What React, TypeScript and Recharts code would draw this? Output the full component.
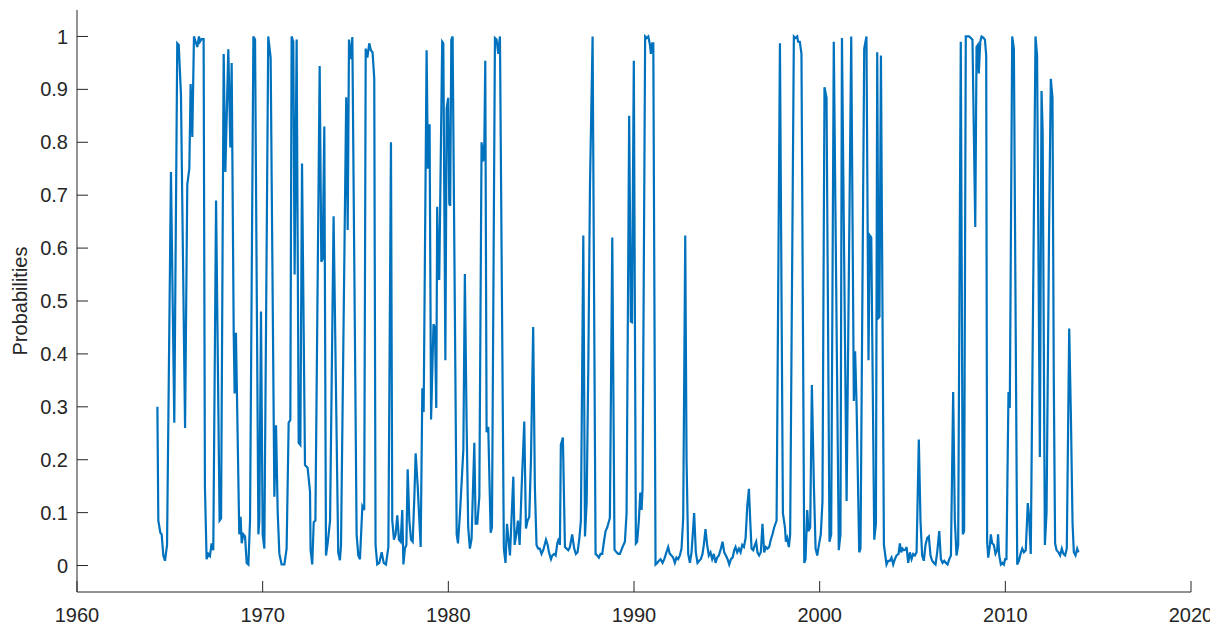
import React from 'react';
import { LineChart, Line, XAxis, YAxis } from 'recharts';

// [decimal year, probability]
const obs1960s: [number, number][] = [
  [1964.33, 0.3], [1964.38, 0.085], [1964.49, 0.062], [1964.56, 0.059], [1964.65, 0.019], [1964.74, 0.009],
  [1964.85, 0.039], [1965.06, 0.744], [1965.24, 0.27], [1965.4, 0.987], [1965.48, 0.984], [1965.6, 0.89],
  [1965.82, 0.26], [1965.94, 0.72], [1966.05, 0.75], [1966.12, 0.91], [1966.21, 0.81], [1966.3, 1.0],
  [1966.39, 0.99], [1966.48, 0.98], [1966.57, 1.0], [1966.62, 0.99], [1966.71, 0.995], [1966.82, 0.995],
  [1966.89, 0.15], [1966.98, 0.012], [1967.07, 0.022], [1967.16, 0.018], [1967.25, 0.042], [1967.34, 0.029],
  [1967.49, 0.69], [1967.68, 0.085], [1967.76, 0.089], [1967.9, 0.967], [1967.99, 0.744], [1968.15, 0.976],
  [1968.26, 0.79], [1968.33, 0.95], [1968.44, 0.44], [1968.49, 0.325], [1968.56, 0.44], [1968.74, 0.059],
  [1968.81, 0.092], [1968.87, 0.042], [1968.96, 0.059], [1969.05, 0.055], [1969.14, 0.005], [1969.23, 0.002],
  [1969.32, 0.085], [1969.5, 1.0], [1969.59, 0.994], [1969.77, 0.059], [1969.82, 0.085], [1969.91, 0.48],
];

const obs1970s: [number, number][] = [
  [1970.0, 0.059], [1970.09, 0.032], [1970.3, 1.0], [1970.43, 0.96], [1970.63, 0.13], [1970.72, 0.265],
  [1970.81, 0.1], [1970.9, 0.022], [1971.02, 0.002], [1971.17, 0.002], [1971.29, 0.032], [1971.4, 0.27],
  [1971.49, 0.275], [1971.56, 1.0], [1971.65, 0.99], [1971.72, 0.55], [1971.83, 0.994], [1971.94, 0.232],
  [1972.03, 0.228], [1972.12, 0.76], [1972.28, 0.19], [1972.42, 0.185], [1972.55, 0.14], [1972.58, 0.03],
  [1972.67, 0.002], [1972.75, 0.082], [1972.84, 0.085], [1973.07, 0.944], [1973.16, 0.574], [1973.23, 0.58],
  [1973.32, 0.83], [1973.41, 0.019], [1973.5, 0.042], [1973.63, 0.085], [1973.82, 0.66], [1974.07, 0.025],
  [1974.16, 0.01], [1974.22, 0.039], [1974.5, 0.885], [1974.58, 0.634], [1974.65, 0.994], [1974.74, 0.957],
  [1974.83, 0.999], [1975.06, 0.059], [1975.15, 0.019], [1975.24, 0.012], [1975.37, 0.112], [1975.47, 0.105],
  [1975.55, 0.977], [1975.64, 0.96], [1975.74, 0.987], [1975.83, 0.974], [1975.92, 0.97], [1976.01, 0.92],
  [1976.08, 0.039], [1976.17, 0.002], [1976.28, 0.005], [1976.41, 0.025], [1976.52, 0.005], [1976.64, 0.002],
  [1976.77, 0.035], [1976.91, 0.8], [1976.98, 0.085], [1977.07, 0.049], [1977.16, 0.059], [1977.25, 0.095],
  [1977.34, 0.049], [1977.43, 0.045], [1977.52, 0.105], [1977.58, 0.002], [1977.66, 0.032], [1977.74, 0.039],
  [1977.81, 0.182], [1977.9, 0.085], [1977.99, 0.049], [1978.08, 0.045], [1978.17, 0.13], [1978.24, 0.212],
  [1978.35, 0.15], [1978.44, 0.085], [1978.51, 0.035], [1978.6, 0.335], [1978.67, 0.29], [1978.83, 0.974],
  [1978.9, 0.75], [1978.99, 0.834], [1979.07, 0.276], [1979.2, 0.456], [1979.28, 0.45], [1979.35, 0.298],
  [1979.4, 0.678], [1979.46, 0.545], [1979.51, 0.54], [1979.67, 0.99], [1979.73, 0.987], [1979.84, 0.388],
  [1979.91, 0.864], [1979.99, 0.884],
];

const obs1980s: [number, number][] = [
  [1980.05, 0.684], [1980.1, 0.68], [1980.16, 0.994], [1980.23, 1.0], [1980.45, 0.059], [1980.52, 0.042],
  [1980.63, 0.1], [1980.81, 0.22], [1980.89, 0.551], [1980.98, 0.28], [1981.07, 0.072], [1981.16, 0.032],
  [1981.25, 0.05], [1981.4, 0.232], [1981.47, 0.079], [1981.56, 0.079], [1981.67, 0.13], [1981.79, 0.8],
  [1981.88, 0.764], [1981.94, 0.8], [1981.99, 0.954], [1982.06, 0.252], [1982.15, 0.262], [1982.28, 0.062],
  [1982.35, 0.072], [1982.51, 0.997], [1982.6, 0.994], [1982.69, 0.967], [1982.78, 1.0], [1982.99, 0.032],
  [1983.08, 0.005], [1983.16, 0.079], [1983.25, 0.045], [1983.32, 0.019], [1983.5, 0.168], [1983.57, 0.039],
  [1983.66, 0.059], [1983.75, 0.085], [1983.84, 0.039], [1983.95, 0.15], [1984.09, 0.272], [1984.18, 0.07],
  [1984.27, 0.085], [1984.36, 0.092], [1984.45, 0.2], [1984.57, 0.451], [1984.66, 0.15], [1984.75, 0.039],
  [1984.84, 0.032], [1984.93, 0.032], [1985.02, 0.022], [1985.11, 0.029], [1985.26, 0.049], [1985.35, 0.039],
  [1985.42, 0.025], [1985.53, 0.012], [1985.6, 0.019], [1985.69, 0.022], [1985.78, 0.019], [1985.87, 0.042],
  [1985.96, 0.052], [1986.01, 0.039], [1986.06, 0.228], [1986.17, 0.242], [1986.28, 0.035], [1986.37, 0.032],
  [1986.46, 0.029], [1986.55, 0.035], [1986.67, 0.059], [1986.78, 0.032], [1986.87, 0.022], [1986.96, 0.025],
  [1987.05, 0.049], [1987.14, 0.085], [1987.27, 0.624], [1987.36, 0.055], [1987.45, 0.12], [1987.54, 0.38],
  [1987.63, 0.72], [1987.77, 1.0], [1987.93, 0.022], [1988.02, 0.019], [1988.11, 0.015], [1988.2, 0.022],
  [1988.29, 0.022], [1988.38, 0.045], [1988.47, 0.065], [1988.56, 0.072], [1988.7, 0.09], [1988.83, 0.62],
  [1988.95, 0.03], [1989.06, 0.025], [1989.15, 0.022], [1989.24, 0.022], [1989.33, 0.03], [1989.42, 0.038],
  [1989.51, 0.045], [1989.6, 0.099], [1989.74, 0.85], [1989.83, 0.461], [1989.89, 0.46], [1989.99, 0.954],
];

const obs1990s: [number, number][] = [
  [1990.1, 0.042], [1990.17, 0.045], [1990.26, 0.085], [1990.34, 0.138], [1990.41, 0.105], [1990.46, 0.145],
  [1990.6, 1.0], [1990.68, 0.997], [1990.77, 1.0], [1990.86, 0.984], [1990.91, 0.967], [1990.98, 0.987],
  [1991.04, 0.987], [1991.16, 0.002], [1991.25, 0.005], [1991.34, 0.009], [1991.43, 0.012], [1991.54, 0.005],
  [1991.63, 0.012], [1991.72, 0.022], [1991.84, 0.035], [1991.93, 0.022], [1992.02, 0.019], [1992.11, 0.015],
  [1992.2, 0.005], [1992.29, 0.015], [1992.38, 0.012], [1992.47, 0.019], [1992.56, 0.032], [1992.65, 0.09],
  [1992.76, 0.624], [1992.83, 0.2], [1992.92, 0.022], [1993.01, 0.005], [1993.1, 0.025], [1993.24, 0.099],
  [1993.33, 0.025], [1993.42, 0.005], [1993.51, 0.009], [1993.6, 0.012], [1993.69, 0.022], [1993.76, 0.039],
  [1993.85, 0.069], [1993.94, 0.039], [1994.03, 0.019], [1994.12, 0.025], [1994.21, 0.012], [1994.3, 0.022],
  [1994.39, 0.005], [1994.48, 0.015], [1994.57, 0.019], [1994.68, 0.032], [1994.77, 0.045], [1994.86, 0.025],
  [1994.95, 0.019], [1995.04, 0.012], [1995.13, 0.002], [1995.22, 0.012], [1995.31, 0.015], [1995.4, 0.029],
  [1995.47, 0.035], [1995.56, 0.025], [1995.65, 0.032], [1995.74, 0.025], [1995.83, 0.039], [1995.92, 0.035],
  [1996.01, 0.052], [1996.1, 0.112], [1996.19, 0.145], [1996.26, 0.085], [1996.33, 0.032], [1996.42, 0.029],
  [1996.51, 0.039], [1996.58, 0.045], [1996.65, 0.025], [1996.74, 0.019], [1996.83, 0.025], [1996.92, 0.079],
  [1997.01, 0.025], [1997.1, 0.035], [1997.19, 0.032], [1997.28, 0.035], [1997.37, 0.049], [1997.46, 0.059],
  [1997.55, 0.072], [1997.68, 0.085], [1997.86, 0.987], [1998.02, 0.099], [1998.13, 0.072], [1998.18, 0.045],
  [1998.25, 0.052], [1998.34, 0.035], [1998.41, 0.059], [1998.61, 1.0], [1998.7, 0.997], [1998.79, 1.0],
  [1998.84, 0.99], [1998.93, 0.99], [1999.02, 0.967], [1999.17, 0.005], [1999.24, 0.012], [1999.33, 0.105],
  [1999.4, 0.065], [1999.49, 0.072], [1999.58, 0.341], [1999.69, 0.15], [1999.78, 0.032], [1999.87, 0.019],
  [1999.96, 0.039],
];

const obs2000s: [number, number][] = [
  [2000.06, 0.059], [2000.15, 0.12], [2000.26, 0.904], [2000.37, 0.884], [2000.53, 0.045], [2000.62, 0.059],
  [2000.76, 0.99], [2001.03, 0.029], [2001.12, 0.059], [2001.2, 0.997], [2001.45, 0.122], [2001.7, 1.0],
  [2001.84, 0.311], [2001.91, 0.405], [2001.99, 0.3], [2002.13, 0.025], [2002.2, 0.032], [2002.4, 0.977],
  [2002.52, 1.0], [2002.63, 0.388], [2002.7, 0.624], [2002.78, 0.62], [2002.94, 0.049], [2003.03, 0.079],
  [2003.1, 0.97], [2003.17, 0.468], [2003.22, 0.47], [2003.3, 0.964], [2003.46, 0.039], [2003.6, 0.002],
  [2003.69, 0.009], [2003.78, 0.009], [2003.87, 0.015], [2003.96, 0.002], [2004.05, 0.012], [2004.14, 0.019],
  [2004.25, 0.022], [2004.32, 0.042], [2004.39, 0.025], [2004.46, 0.032], [2004.54, 0.029], [2004.62, 0.03],
  [2004.68, 0.035], [2004.77, 0.005], [2004.86, 0.025], [2004.95, 0.012], [2005.04, 0.022], [2005.13, 0.019],
  [2005.22, 0.025], [2005.34, 0.238], [2005.43, 0.085], [2005.52, 0.019], [2005.61, 0.009], [2005.7, 0.039],
  [2005.79, 0.052], [2005.88, 0.055], [2005.97, 0.019], [2006.06, 0.009], [2006.15, 0.005], [2006.24, 0.002],
  [2006.33, 0.025], [2006.44, 0.065], [2006.53, 0.012], [2006.62, 0.005], [2006.71, 0.009], [2006.8, 0.005],
  [2006.89, 0.002], [2006.98, 0.012], [2007.07, 0.019], [2007.19, 0.328], [2007.28, 0.085], [2007.37, 0.019],
  [2007.46, 0.039], [2007.6, 0.99], [2007.71, 0.059], [2007.78, 0.065], [2007.87, 1.0], [2007.96, 1.0],
  [2008.05, 1.0], [2008.14, 0.997], [2008.23, 0.994], [2008.38, 0.64], [2008.45, 0.98], [2008.52, 0.984],
  [2008.57, 0.93], [2008.65, 0.99], [2008.72, 1.0], [2008.81, 0.998], [2008.9, 0.994], [2008.97, 0.964],
  [2009.02, 0.045], [2009.08, 0.015], [2009.17, 0.039], [2009.22, 0.059], [2009.29, 0.042], [2009.38, 0.039],
  [2009.47, 0.022], [2009.56, 0.029], [2009.61, 0.059], [2009.67, 0.019], [2009.76, 0.002], [2009.85, 0.005],
  [2009.92, 0.002], [2009.99, 0.012],
];

const obs2010s: [number, number][] = [
  [2010.06, 0.012], [2010.17, 0.328], [2010.24, 0.298], [2010.37, 1.0], [2010.46, 0.977], [2010.64, 0.002],
  [2010.73, 0.009], [2010.82, 0.022], [2010.91, 0.032], [2011.0, 0.025], [2011.1, 0.029], [2011.21, 0.118],
  [2011.28, 0.092], [2011.37, 0.022], [2011.625, 1.0], [2011.71, 0.964], [2011.86, 0.205], [2011.95, 0.897],
  [2012.01, 0.82], [2012.13, 0.039], [2012.22, 0.1], [2012.36, 0.65], [2012.45, 0.92], [2012.54, 0.884],
  [2012.61, 0.35], [2012.68, 0.042], [2012.76, 0.029], [2012.86, 0.025], [2012.95, 0.019], [2013.04, 0.032],
  [2013.13, 0.022], [2013.22, 0.019], [2013.31, 0.032], [2013.44, 0.448], [2013.53, 0.285], [2013.62, 0.08],
  [2013.69, 0.025], [2013.78, 0.019], [2013.87, 0.032], [2013.94, 0.025],
];

const xTicks = [1960, 1970, 1980, 1990, 2000, 2010, 2020];
const yTicks = [0, 0.1, 0.2, 0.3, 0.4, 0.5, 0.6, 0.7, 0.8, 0.9, 1];

const data = [...obs1960s, ...obs1970s, ...obs1980s, ...obs1990s, ...obs2000s, ...obs2010s].map(
  ([year, p]) => ({ year, p })
);

const FONT = "'Liberation Sans', Arial, Helvetica, sans-serif";
const INK = '#262626';

const YTitle = (props: any) => {
  const { viewBox } = props;
  const cy = viewBox.y + viewBox.height / 2;
  const x = 19;
  return (
    <text
      x={x}
      y={cy}
      transform={`rotate(-90 ${x} ${cy})`}
      textAnchor="middle"
      fill={INK}
      fontSize={20}
      fontFamily={FONT}
    >
      Probabilities
    </text>
  );
};

export default function App() {
  return (
    <div style={{ width: 1210, height: 617 }}>
      <LineChart
        width={1210}
        height={617}
        data={data}
        margin={{ top: 2, right: 27, bottom: 0, left: 0 }}
      >
        <XAxis
          dataKey="year"
          type="number"
          domain={[1960, 2020]}
          ticks={xTicks}
          height={33}
          stroke={INK}
          tickSize={-11}
          tickMargin={27}
          tick={{ fill: INK, fontSize: 20, fontFamily: FONT }}
          interval={0}
        />
        <YAxis
          type="number"
          domain={[-0.05, 1.05]}
          ticks={yTicks}
          width={69}
          stroke={INK}
          tickSize={-11}
          tickMargin={20}
          tick={{ fill: INK, fontSize: 20, fontFamily: FONT }}
          tickFormatter={(v: number) => String(Math.round(v * 10) / 10)}
          interval={0}
          label={<YTitle />}
        />
        <Line
          type="linear"
          dataKey="p"
          stroke="#0072BD"
          strokeWidth={2.2}
          dot={false}
          isAnimationActive={false}
        />
      </LineChart>
    </div>
  );
}
